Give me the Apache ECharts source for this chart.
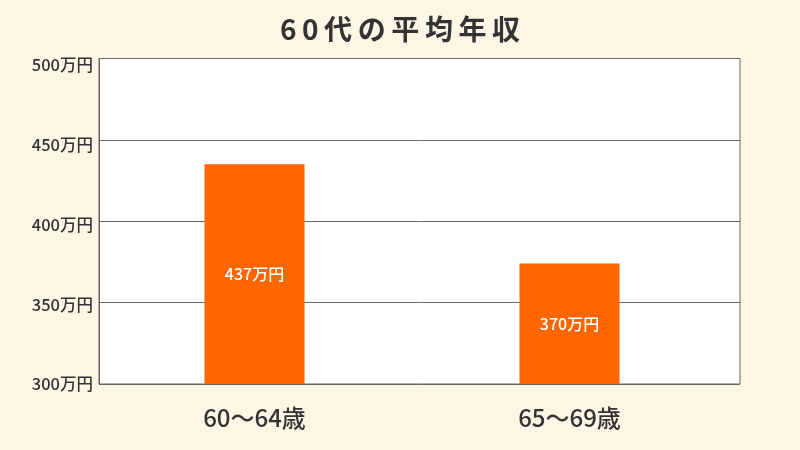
<!DOCTYPE html>
<html><head><meta charset="utf-8">
<script src="https://cdn.jsdelivr.net/npm/echarts@6/dist/echarts.min.js"></script>
<style>html,body{margin:0;padding:0;background:#fdf6e5;}#c{width:800px;height:450px;}</style>
</head><body><div id="c"></div>
<script>
const categories = ['60〜64歳', '65〜69歳'];
const values = [435, 374];
const labelTexts = ['437万円', '370万円'];
const yTicks = [300, 350, 400, 450, 500];
const font = '"Noto Sans CJK JP", "Noto Sans", sans-serif';
const chart = echarts.init(document.getElementById('c'));
const yMin = yTicks[0], yMax = yTicks[yTicks.length - 1];
chart.setOption({
  backgroundColor: '#fdf6e5',
  animation: false,
  title: {
    text: '6\u20090\u2009代\u2009の\u2009平\u2009均\u2009年\u2009収',
    left: 'center', top: 10,
    textStyle: {fontFamily: font, fontSize: 28, fontWeight: 'bold', color: '#333'}
  },
  grid: [
    {left: 99, right: 60, top: 58.5, bottom: 66, show: true, backgroundColor: '#fff', borderColor: '#666', borderWidth: 1},
    {left: 97, right: 73, top: 58.5, bottom: 66, show: false},
    {left: 99, right: 60, top: 65, bottom: 66, show: false}
  ],
  xAxis: [
    {type: 'category', gridIndex: 0, data: [''], show: false},
    {
      type: 'category', gridIndex: 1, data: categories,
      axisLine: {show: false},
      axisTick: {show: false},
      axisLabel: {fontFamily: font, fontSize: 24, fontWeight: 500, color: '#333', margin: 22}
    },
    {type: 'category', gridIndex: 2, data: [''], show: false}
  ],
  yAxis: [
    {
      type: 'value', gridIndex: 0, min: yMin, max: yMax, interval: 50,
      axisLine: {show: true, lineStyle: {color: '#666'}},
      axisTick: {show: false},
      splitLine: {lineStyle: {color: '#666'}},
      axisLabel: {show: false}
    },
    {type: 'value', gridIndex: 1, min: yMin, max: yMax, interval: 50, show: false, splitLine: {show: false}},
    {
      type: 'value', gridIndex: 2, min: yMin, max: yMax, interval: 50,
      axisLine: {show: false}, axisTick: {show: false}, splitLine: {show: false},
      axisLabel: {fontFamily: font, fontSize: 16.5, fontWeight: 500, color: '#333', margin: 6, formatter: v => v + '万円'}
    }
  ],
  series: [{
    type: 'bar', xAxisIndex: 1, yAxisIndex: 1, data: values, barWidth: 100,
    itemStyle: {color: '#ff6600'},
    label: {show: true, position: 'inside', fontFamily: font, fontSize: 16, fontWeight: 500, color: '#fff',
      formatter: p => labelTexts[p.dataIndex]}
  }]
});
</script></body></html>
